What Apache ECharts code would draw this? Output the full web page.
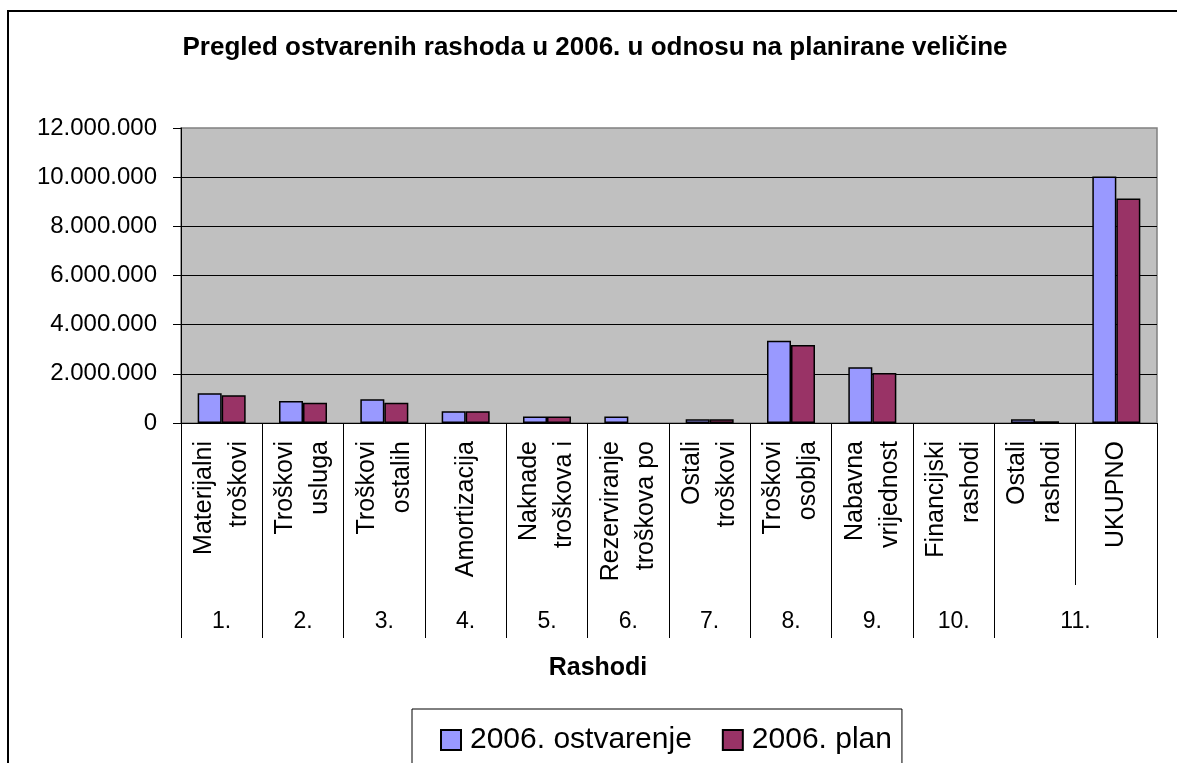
<!DOCTYPE html>
<html>
<head>
<meta charset="utf-8">
<title>Pregled ostvarenih rashoda</title>
<script src="https://cdn.jsdelivr.net/npm/echarts@6/dist/echarts.min.js"></script>
<style>
	html, body { margin: 0; padding: 0; background: #fff; }
	#chart { width: 1177px; height: 763px; }
</style>
</head>
<body>
<div id="chart"></div>
<script>
var categories = [ 'Materijalni\ntroškovi', 'Troškovi\nusluga', 'Troškovi\nostalih', 'Amortizacija',
	'Naknade\ntroškova i', 'Rezerviranje\ntroškova po', 'Ostali\ntroškovi', 'Troškovi\nosoblja',
	'Nabavna\nvrijednost', 'Financijski\nrashodi', 'Ostali\nrashodi', 'UKUPNO' ];
var groupLabels = [ '1.', '2.', '3.', '4.', '5.', '6.', '7.', '8.', '9.', '10.', '11.', '' ];
var ostvarenje = [ 1210000, 900000, 970000, 480000, 260000, 260000, 150000, 3350000, 2270000, 0, 150000, 10030000 ];
var plan = [ 1130000, 820000, 820000, 480000, 260000, 0, 150000, 3170000, 2030000, 0, 70000, 9130000 ];
var seriesNames = [ '2006. ostvarenje', '2006. plan' ];

var font = '"Liberation Sans", Arial, sans-serif';

function dots(v) {
	return String(v).replace(/\B(?=(\d{3})+(?!\d))/g, '.');
}

// nulte vrijednosti bez obruba
function barData(arr) {
	return arr.map(function(v) {
		return v === 0 ? { value : v, itemStyle : { borderWidth : 0 } } : v;
	});
}

var myChart = echarts.init(document.getElementById('chart'));

var option = {
	animation : false,
	textStyle : { fontFamily : font, color : '#000' },
	title : [ {
		text : 'Pregled ostvarenih rashoda u 2006. u odnosu na planirane veličine',
		left : 595,
		top : 35,
		textAlign : 'center',
		padding : 0,
		textStyle : { fontFamily : font, fontSize : 26, fontWeight : 'bold', color : '#000' }
	}, {
		text : 'Rashodi',
		left : 598,
		top : 656,
		textAlign : 'center',
		padding : 0,
		textStyle : { fontFamily : font, fontSize : 25, fontWeight : 'bold', color : '#000' }
	} ],
	graphic : [ {
		type : 'rect',
		silent : true,
		shape : { x : 8, y : 11, width : 1300, height : 900 },
		style : { fill : 'none', stroke : '#000', lineWidth : 2 }
	} ],
	legend : {
		data : seriesNames,
		left : 412,
		top : 709,
		padding : [ 16, 10, 60, 28 ],
		itemGap : 30,
		itemWidth : 20,
		itemHeight : 20,
		icon : 'rect',
		borderColor : '#000',
		borderWidth : 1,
		backgroundColor : '#fff',
		textStyle : { fontFamily : font, fontSize : 30, color : '#000', padding : [ 0, 0, 0, 4 ] }
	},
	grid : {
		left : 181,
		right : 20,
		top : 128,
		bottom : 340,
		show : true,
		backgroundColor : '#c0c0c0',
		borderColor : '#808080',
		borderWidth : 1.5
	},
	xAxis : [ {
		type : 'category',
		data : categories,
		axisLine : { show : true, lineStyle : { color : '#000', width : 1 } },
		axisTick : { show : true, interval : 0, length : 162, lineStyle : { color : '#000', width : 1 } },
		axisLabel : {
			interval : 0,
			rotate : 90,
			margin : 18,
			fontSize : 25,
			lineHeight : 35,
			color : '#000',
			fontFamily : font
		}
	}, {
		type : 'category',
		data : groupLabels,
		position : 'bottom',
		axisLine : { show : false },
		axisTick : {
			show : true,
			length : 215,
			interval : function(index) { return index !== 11; },
			lineStyle : { color : '#000', width : 1 }
		},
		axisLabel : {
			interval : 0,
			margin : 187,
			fontSize : 23,
			color : '#000',
			fontFamily : font,
			formatter : function(v, i) { return i === 10 ? '{s|' + v + '}' : v; },
			rich : { s : { fontSize : 23, fontFamily : font, color : '#000', padding : [ 0, 0, 0, 81 ] } }
		}
	} ],
	yAxis : {
		type : 'value',
		min : 0,
		max : 12000000,
		interval : 2000000,
		axisLine : { show : true, lineStyle : { color : '#000' } },
		axisTick : { show : true, length : 8, lineStyle : { color : '#000' } },
		splitLine : { show : true, showMaxLine : false, lineStyle : { color : '#000', width : 1 } },
		axisLabel : { margin : 24, fontSize : 24, color : '#000', fontFamily : font, formatter : dots }
	},
	series : [ {
		name : seriesNames[0],
		type : 'bar',
		data : barData(ostvarenje),
		barWidth : 24,
		barGap : '0%',
		itemStyle : { color : '#9999ff', borderColor : '#000', borderWidth : 1.5 }
	}, {
		name : seriesNames[1],
		type : 'bar',
		data : barData(plan),
		barWidth : 24,
		barGap : '0%',
		itemStyle : { color : '#993366', borderColor : '#000', borderWidth : 1.5 }
	} ]
};

myChart.setOption(option);
</script>
</body>
</html>
